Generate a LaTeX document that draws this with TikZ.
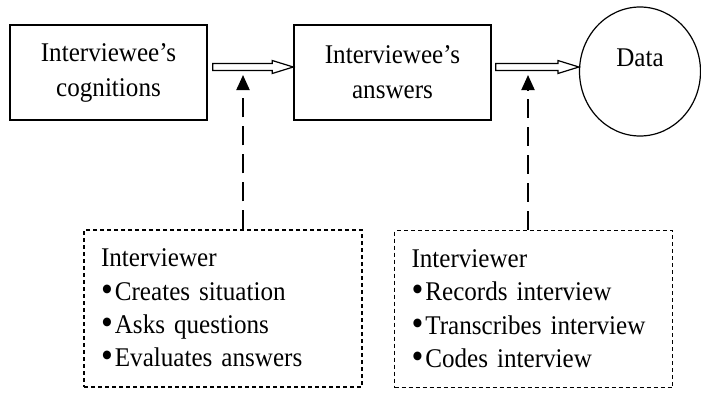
\documentclass[tikz,border=0pt]{standalone}
\usepackage{fontspec}
\usepackage{graphicx}
\setmainfont{Liberation Serif}[FakeStretch=0.93]
\usetikzlibrary{calc,arrows.meta,shapes.geometric}
\newcommand\itembul{\raisebox{-1pt}{\scalebox{1.35}{•}}\hspace{2pt}}
\newcommand\hollowarr[2]{%
  \draw[hollow] ($(#1)+(0,-3.5)$) -- ($(#2)+(-21,-3.5)$) -- ($(#2)+(-21,-6.5)$) -- (#2)
    -- ($(#2)+(-21,6.5)$) -- ($(#2)+(-21,3.5)$) -- ($(#1)+(0,3.5)$) -- cycle;}
\begin{document}
\begin{tikzpicture}[x=1pt,y=-1pt,
  font=\fontsize{27}{35}\selectfont,
  box/.style={draw, line width=1.5pt, minimum width=197pt, minimum height=95pt,
    inner sep=0pt, align=center},
  infobox/.style={draw, dash pattern=on 4pt off 3pt, line width=1.3pt,
    minimum width=278pt, minimum height=157pt, inner xsep=17pt, inner ysep=0pt,
    text width=244pt, align=left, font=\fontsize{27}{33.3}\selectfont},
  hollow/.style={draw, line width=1.2pt, fill=white, line join=miter},
  dasharrow/.style={line width=2pt, dash pattern=on 19pt off 9pt,
    -{Triangle[length=15pt,width=13pt]}},
  circ/.style={draw, ellipse, line width=1.2pt, minimum width=121pt,
    minimum height=129pt, inner sep=0pt}
]
\useasboundingbox (0,0) rectangle (701,392);

\node[box] (cog) at (108.5,72.5) {Interviewee’s\\cognitions};
\node[box] (ans) at (392.5,72.5) {Interviewee’s\\answers};
\node[circ, label={[yshift=13.5pt]center:Data}] (data) at (640,71.5) {};

\node[infobox] (iv1) at (223,308.5) {Interviewer\\\itembul Creates situation\\\itembul Asks questions\\\itembul Evaluates answers};
\node[infobox] (iv2) at (533.5,309) {Interviewer\\\itembul Records interview\\\itembul Transcribes interview\\\itembul Codes interview};

\coordinate (a1s) at ($(cog.east)+(5,-5.5)$);
\coordinate (a1e) at (ans.west |- a1s);
\coordinate (a2s) at ($(ans.east)+(4,-5.5)$);
\coordinate (a2e) at (data.west |- a2s);
\hollowarr{a1s}{a1e}
\hollowarr{a2s}{a2e}

\coordinate (t1) at (243,75);
\coordinate (t2) at (528,75);
\draw[dasharrow] (iv1.north -| t1) -- (t1);
\draw[dasharrow] (iv2.north -| t2) -- (t2);
\end{tikzpicture}
\end{document}
